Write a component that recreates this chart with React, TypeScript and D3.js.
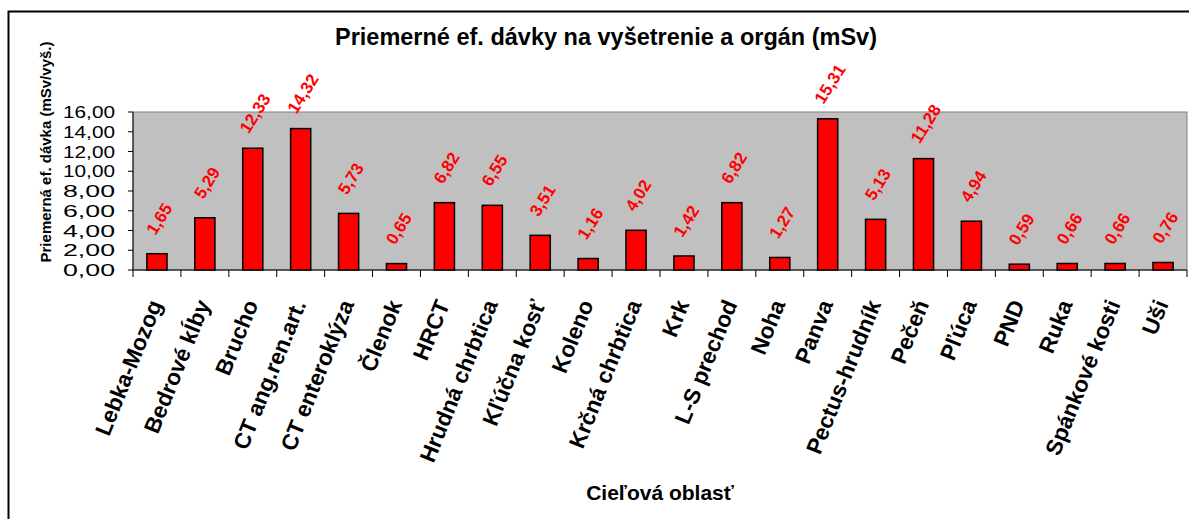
import React from "react";
import * as d3 from "d3";

const categories = [
  "Lebka-Mozog", "Bedrové kĺby", "Brucho", "CT ang.ren.art.", "CT enteroklýza",
  "Členok", "HRCT", "Hrudná chrbtica", "Kľúčna kosť", "Koleno", "Krčná chrbtica",
  "Krk", "L-S prechod", "Noha", "Panva", "Pectus-hrudník", "Pečeň", "Pľúca",
  "PND", "Ruka", "Spánkové kosti", "Uši",
];
const values = [
  1.65, 5.29, 12.33, 14.32, 5.73, 0.65, 6.82, 6.55, 3.51, 1.16, 4.02,
  1.42, 6.82, 1.27, 15.31, 5.13, 11.28, 4.94, 0.59, 0.66, 0.66, 0.76,
];
const yTicks = [0, 2, 4, 6, 8, 10, 12, 14, 16];
const title = "Priemerné ef. dávky na vyšetrenie a orgán (mSv)";
const yTitle = "Priemerná ef. dávka (mSv/vyš.)";
const xTitle = "Cieľová oblasť";

const W = 1189;
const H = 519;
const plot = { left: 133, right: 1187, top: 112, bottom: 270 };
const FONT = "'Liberation Sans', Arial, sans-serif";

const fmt = (v: number) => v.toFixed(2).replace(".", ",");

export default function App() {
  const x = d3
    .scaleBand<string>()
    .domain(categories)
    .range([plot.left, plot.right])
    .padding(0);
  const y = d3.scaleLinear().domain([0, 16]).range([plot.bottom, plot.top]);
  const bw = x.bandwidth() * 0.42;

  return (
    <svg
      width={W}
      height={H}
      style={{ position: "absolute", left: 0, top: 0, background: "#fff" }}
      fontFamily={FONT}
    >
      <rect x={8.5} y={11.5} width={1200} height={540} fill="#fff" stroke="#000" strokeWidth={2} />
      <text x={606} y={45} textAnchor="middle" fontWeight="bold" fontSize={23.5} fill="#000">
        {title}
      </text>
      {/* plot area */}
      <rect
        x={plot.left}
        y={plot.top}
        width={plot.right - plot.left}
        height={plot.bottom - plot.top}
        fill="#C0C0C0"
        stroke="#808080"
        strokeWidth={1}
      />
      {/* y axis */}
      <line x1={plot.left} x2={plot.left} y1={plot.top} y2={plot.bottom} stroke="#000" strokeWidth={1} />
      {yTicks.map((t) => (
        <g key={t}>
          <line x1={plot.left - 5} x2={plot.left} y1={y(t)} y2={y(t)} stroke="#000" />
          <text
            x={63}
            y={y(t)}
            dy="0.36em"
            textAnchor="start"
            fontSize={17}
            textLength={52}
            lengthAdjust="spacingAndGlyphs"
            fill="#000"
          >
            {fmt(t)}
          </text>
        </g>
      ))}
      {/* x axis */}
      <line x1={plot.left} x2={plot.right} y1={plot.bottom} y2={plot.bottom} stroke="#000" strokeWidth={1} />
      {categories.map((c, i) => (
        <line
          key={"t" + i}
          x1={x(c)!}
          x2={x(c)!}
          y1={plot.bottom}
          y2={plot.bottom + 7}
          stroke="#000"
        />
      ))}
      <line x1={plot.right} x2={plot.right} y1={plot.bottom} y2={plot.bottom + 7} stroke="#000" />
      {/* bars */}
      {categories.map((c, i) => {
        const cx = x(c)! + x.bandwidth() / 2;
        return (
          <rect
            key={"b" + i}
            x={cx - bw / 2}
            y={y(values[i])}
            width={bw}
            height={plot.bottom - y(values[i])}
            fill="#FF0000"
            stroke="#000"
            strokeWidth={1.5}
          />
        );
      })}
      {/* data labels */}
      {categories.map((c, i) => {
        const cx = x(c)! + x.bandwidth() / 2;
        const ty = y(values[i]) - 35;
        return (
          <text
            key={"l" + i}
            transform={`translate(${cx + 2},${ty}) rotate(-58)`}
            textAnchor="middle"
            dy="0.36em"
            fontSize={17}
            fontWeight="bold"
            fill="#FF0000"
          >
            {fmt(values[i])}
          </text>
        );
      })}
      {/* category labels */}
      {categories.map((c, i) => {
        const cx = x(c)! + x.bandwidth() / 2;
        return (
          <text
            key={"c" + i}
            transform={`translate(${cx - 9},${298}) rotate(-68)`}
            textAnchor="end"
            dy="0.71em"
            fontSize={22.5}
            fontWeight="bold"
            fill="#000"
          >
            {c}
          </text>
        );
      })}
      <text
        transform={`translate(51,${152}) rotate(-90)`}
        textAnchor="middle"
        fontSize={15}
        fontWeight="bold"
        fill="#000"
      >
        {yTitle}
      </text>
      <text x={660} y={500} textAnchor="middle" fontSize={21} fontWeight="bold" fill="#000">
        {xTitle}
      </text>
    </svg>
  );
}
